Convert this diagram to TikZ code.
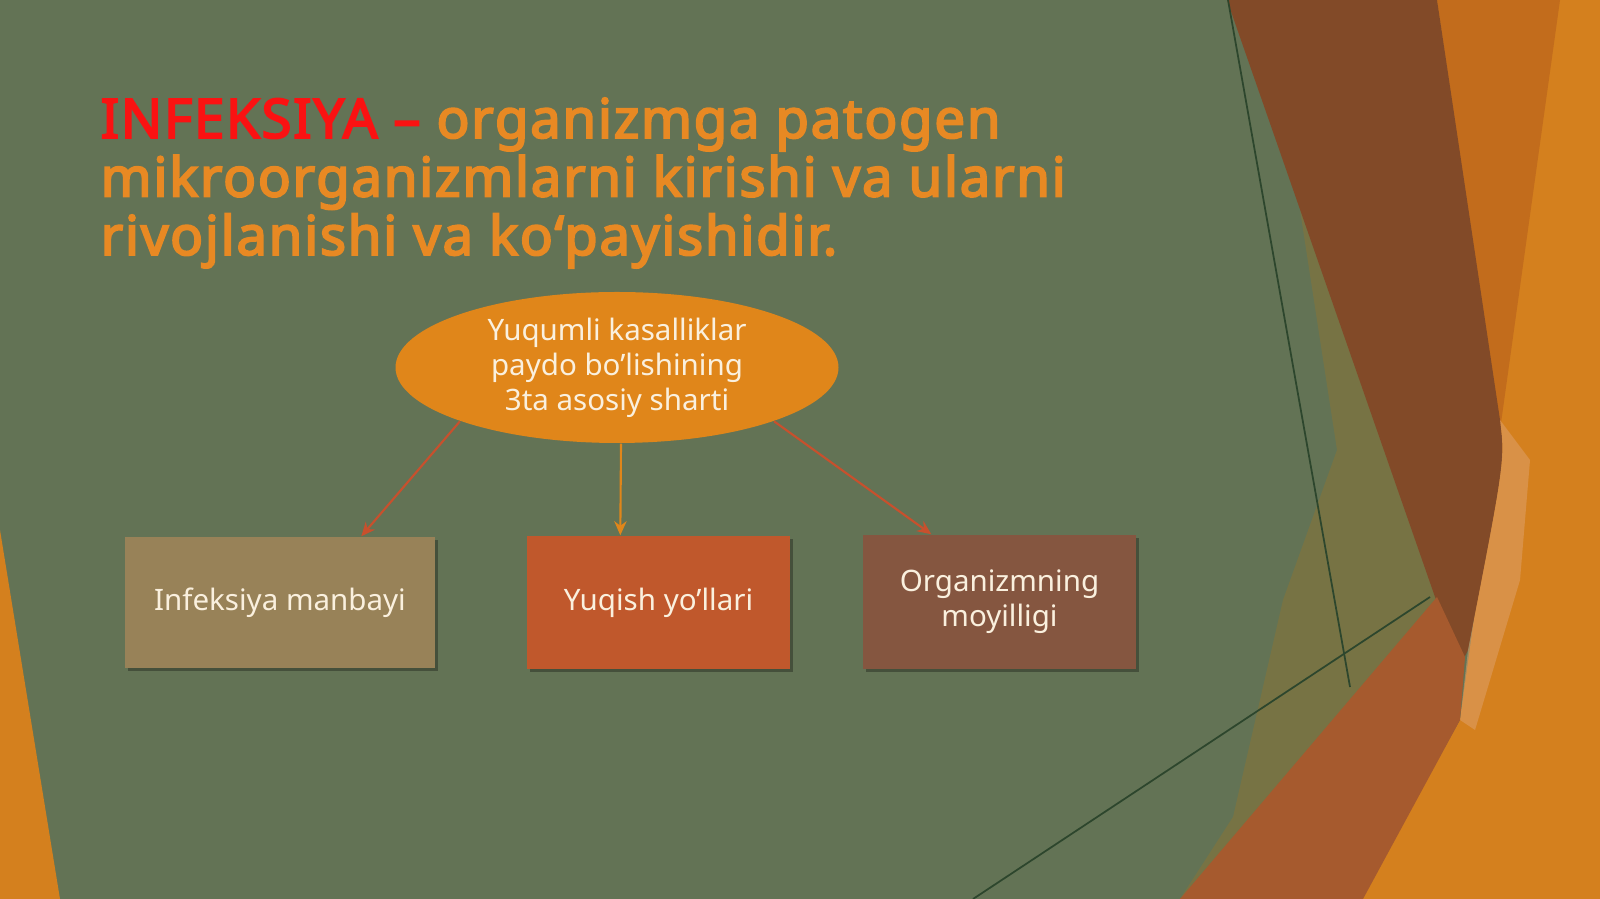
\documentclass[tikz,border=0pt]{standalone}
\usepackage{fontspec}
\setmainfont{Noto Sans}
\newfontfamily\headfont{Noto Sans}[FakeBold=3.5,LetterSpace=3.2]
\usetikzlibrary{shapes.geometric,arrows.meta,shadows}
\definecolor{slidegreen}{RGB}{99,115,85}
\definecolor{hotorange}{RGB}{212,128,30}
\definecolor{deeporange}{RGB}{194,108,28}
\definecolor{rust}{RGB}{130,74,40}
\definecolor{brick}{RGB}{166,90,46}
\definecolor{olive}{RGB}{140,116,52}
\definecolor{peach}{RGB}{222,160,105}
\definecolor{titleorange}{RGB}{232,137,35}
\definecolor{titlered}{RGB}{250,18,18}
\definecolor{ellorange}{RGB}{224,134,26}
\definecolor{tanbox}{RGB}{152,130,88}
\definecolor{redbox}{RGB}{192,88,44}
\definecolor{brownbox}{RGB}{133,86,64}
\definecolor{cream}{RGB}{250,240,222}
\definecolor{linkred}{RGB}{200,80,45}
\definecolor{thinline}{RGB}{45,70,45}

\begin{document}
\begin{tikzpicture}[
  headline/.style={anchor=base west,inner sep=0pt,text=titleorange,font=\headfont\fontsize{15.5}{18}\selectfont},
  boxnode/.style={rectangle,inner sep=2pt,text=cream,align=center,font=\fontsize{8.4}{10}\selectfont,
    drop shadow={shadow xshift=0.03cm,shadow yshift=-0.03cm,opacity=0.3,fill=black}},
  link/.style={-{Stealth[length=4pt,width=3.5pt]},line width=0.6pt}
]
% slide background
\fill[slidegreen] (0,0) rectangle (16,-8.99);
\useasboundingbox (0,0) rectangle (16,-8.99);
\fill[hotorange] (0,-5.3) -- (0.6,-8.99) -- (0,-8.99) -- cycle;

% right hand bands
\fill[hotorange] (14.3,0) -- (16,0) -- (16,-8.99) -- (13.6,-8.99) -- (14.6,-7.2) -- (15.0,-4.3) -- cycle;
\fill[deeporange] (14.37,0) -- (15.6,0) -- (15.0,-4.3) -- cycle;
\fill[olive,opacity=0.5] (13.0,-2.1) -- (14.4,-6.0) -- (12.1,-8.99) -- (11.8,-8.99) -- (12.33,-8.17) -- (12.83,-6.0) -- (13.37,-4.5) -- cycle;
\fill[rust] (12.27,0) -- (14.37,0) -- (15.0,-4.2) .. controls (15.05,-4.6) .. (14.68,-6.5) -- (14.63,-6.6) -- (14.35,-5.97) -- cycle;
\fill[peach,opacity=0.55] (15.0,-4.2) -- (15.3,-4.6) -- (15.2,-5.8) -- (14.75,-7.3) -- (14.6,-7.2) -- (14.68,-6.5) .. controls (15.05,-4.6) .. (15.0,-4.2) -- cycle;
\fill[brick] (11.8,-8.99) -- (14.37,-5.97) -- (14.65,-6.57) -- (14.6,-7.2) -- (13.63,-8.99) -- cycle;
\draw[thinline,line width=0.5pt] (12.28,0) -- (13.5,-6.87);
\draw[thinline,line width=0.5pt] (9.73,-8.99) -- (14.3,-5.97);

% title
\node[headline] (head1) at (1.0,-1.38) {\textcolor{titlered}{INFEKSIYA –} organizmga patogen};
\node[headline] (head2) at (1.0,-1.965) {mikroorganizmlarni kirishi va ularni};
\node[headline] (head3) at (1.0,-2.55) {rivojlanishi va ko‘payishidir.};

% diagram
\node[ellipse,fill=ellorange,minimum width=4.43cm,minimum height=1.51cm,inner sep=0pt,text=cream,align=center,
  font=\fontsize{8.4}{10}\selectfont] (cond) at (6.17,-3.675) {Yuqumli kasalliklar\\paydo bo’lishining\\3ta asosiy sharti};

\node[boxnode,fill=tanbox,minimum width=3.10cm,minimum height=1.31cm] (src) at (2.80,-6.025) {Infeksiya manbayi};
\node[boxnode,fill=redbox,minimum width=2.63cm,minimum height=1.33cm] (route) at (6.585,-6.025) {Yuqish yo’llari};
\node[boxnode,fill=brownbox,minimum width=2.73cm,minimum height=1.34cm] (host) at (9.995,-6.02) {Organizmning\\moyilligi};

\draw[link,linkred] (cond.south west) -- ([xshift=2.37cm]src.north west);
\draw[link,ellorange] ([xshift=0.04cm]cond.south) -- ([xshift=0.94cm]route.north west);
\draw[link,linkred] (cond.south east) -- ([xshift=0.69cm]host.north west);

\end{tikzpicture}
\end{document}
